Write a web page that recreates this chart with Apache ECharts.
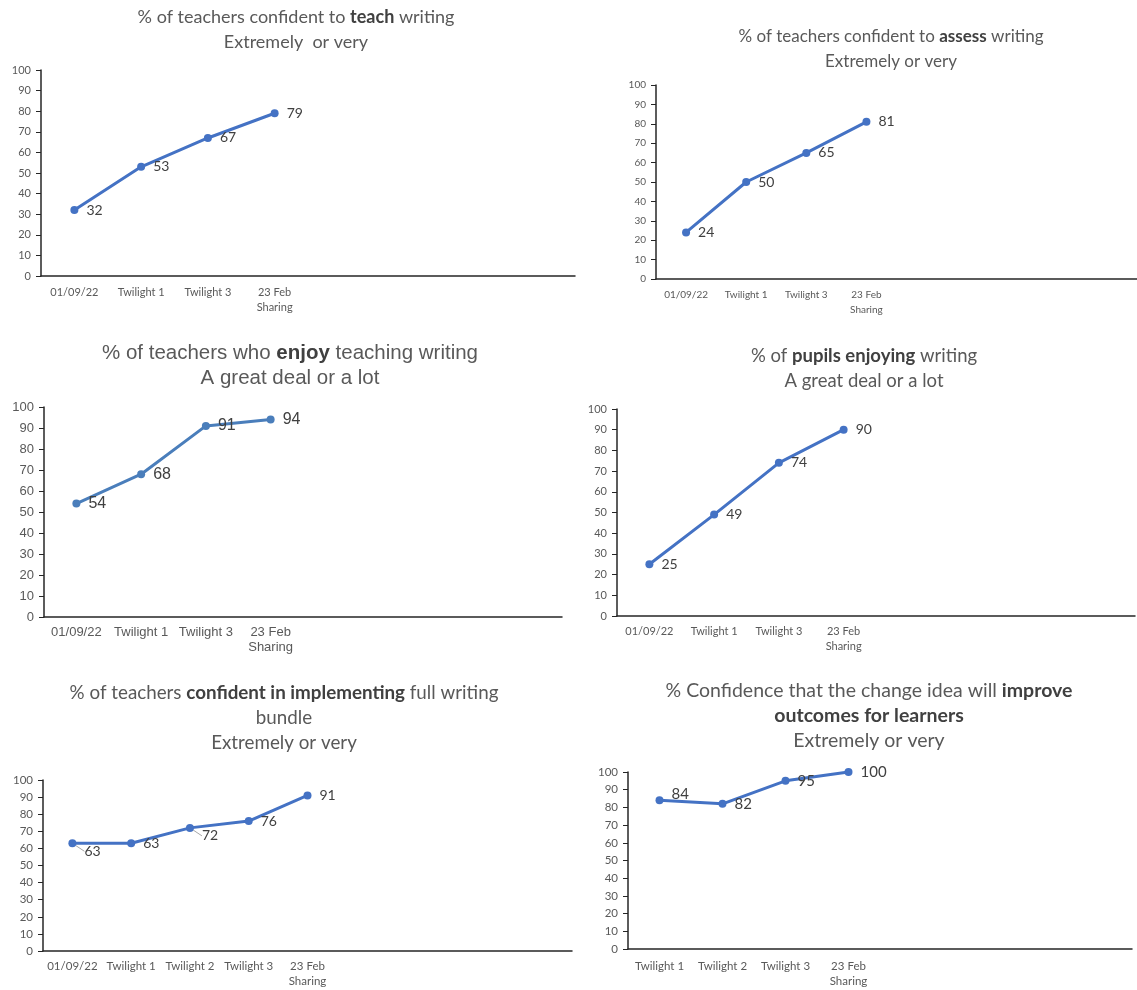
<!DOCTYPE html>
<html>
<head>
<meta charset="utf-8">
<title>Writing survey</title>
<script src="https://cdn.jsdelivr.net/npm/echarts@6/dist/echarts.min.js"></script>
<style>
  html, body { margin: 0; padding: 0; background: #ffffff; }
  #main { width: 1137px; height: 990px; }
</style>
</head>
<body>
<div id="main"></div>
<script>
// ---- data ----
const teachCats = ['01/09/22', 'Twilight 1', 'Twilight 3', '23 Feb\nSharing'];
const teachVals = [32, 53, 67, 79];

const assessCats = ['01/09/22', 'Twilight 1', 'Twilight 3', '23 Feb\nSharing'];
const assessVals = [24, 50, 65, 81];

const enjoyCats = ['01/09/22', 'Twilight 1', 'Twilight 3', '23 Feb\nSharing'];
const enjoyVals = [54, 68, 91, 94];

const pupilsCats = ['01/09/22', 'Twilight 1', 'Twilight 3', '23 Feb\nSharing'];
const pupilsVals = [25, 49, 74, 90];

const bundleCats = ['01/09/22', 'Twilight 1', 'Twilight 2', 'Twilight 3', '23 Feb\nSharing'];
const bundleVals = [63, 63, 72, 76, 91];

const outcomesCats = ['Twilight 1', 'Twilight 2', 'Twilight 3', '23 Feb\nSharing'];
const outcomesVals = [84, 82, 95, 100];

const yMin = 0, yMax = 100, yStep = 10;

const teachTitle = '% of teachers confident to {b|teach} writing\nExtremely  or very';
const assessTitle = '% of teachers confident to {b|assess} writing\nExtremely or very';
const enjoyTitle = '% of teachers who {b|enjoy} teaching writing\nA great deal or a lot';
const pupilsTitle = '% of {b|pupils enjoying} writing\nA great deal or a lot';
const bundleTitle = '% of teachers {b|confident in implementing} full writing\nbundle\nExtremely or very';
const outcomesTitle = '% Confidence that the change idea will {b|improve}\n{b|outcomes for learners}\nExtremely or very';

// ---- styling ----
const CAL = 'Lato, "Open Sans", sans-serif';
const ARIAL = '"Liberation Sans", Arial, sans-serif';
const BLUE = '#4472C4';

const panels = [
  { cats: teachCats, vals: teachVals, title: teachTitle, font: CAL, color: BLUE,
    grid: { left: 41, top: 70, width: 534, height: 206 }, slots: 8,
    tx: 296, ty: 5, tSize: 18, aSize: 11, lSize: 14, xMargin: 9 },
  { cats: assessCats, vals: assessVals, title: assessTitle, font: CAL, color: BLUE,
    grid: { left: 656, top: 85, width: 494, height: 194 }, slots: 8,
    tx: 891, ty: 24, tSize: 17, aSize: 10, lSize: 14, xMargin: 8 },
  { cats: enjoyCats, vals: enjoyVals, title: enjoyTitle, font: ARIAL, color: '#4A7EBB',
    grid: { left: 44, top: 407, width: 518, height: 210 }, slots: 8,
    tx: 290, ty: 341, tSize: 20.5, aSize: 13, lSize: 16, xMargin: 8 },
  { cats: pupilsCats, vals: pupilsVals, title: pupilsTitle, font: CAL, color: BLUE,
    grid: { left: 617, top: 409, width: 518, height: 207 }, slots: 8,
    tx: 864, ty: 344, tSize: 18.5, aSize: 11, lSize: 14, xMargin: 8 },
  { cats: bundleCats, vals: bundleVals, title: bundleTitle, font: CAL, color: BLUE,
    grid: { left: 43, top: 780, width: 529, height: 171 }, slots: 9,
    tx: 284, ty: 680, tSize: 18.8, aSize: 11.5, lSize: 14, xMargin: 8,
    moved: { 0: { dy: 8 }, 2: { dy: 8 } }, leader: [0, 2] },
  { cats: outcomesCats, vals: outcomesVals, title: outcomesTitle, font: CAL, color: BLUE,
    grid: { left: 628, top: 772, width: 504, height: 177 }, slots: 8,
    tx: 869, ty: 678, tSize: 19.5, aSize: 11.5, lSize: 15, xMargin: 10,
    moved: { 0: { dy: -6 } } }
];

const option = { animation: false, title: [], grid: [], xAxis: [], yAxis: [], series: [] };

panels.forEach(function (p, i) {
  // pad the category axis with empty slots so the plot runs on to the right
  const axisCats = p.cats.slice();
  while (axisCats.length < p.slots) axisCats.push('');

  option.title.push({
    text: p.title,
    left: p.tx,
    top: p.ty,
    textAlign: 'center',
    padding: 0,
    textStyle: {
      fontFamily: p.font, fontSize: p.tSize, fontWeight: 'normal', color: '#595959',
      lineHeight: 25,
      rich: { b: { fontFamily: p.font, fontSize: p.tSize, fontWeight: 'bold', color: '#404040', lineHeight: 25 } }
    }
  });

  option.grid.push(Object.assign({ containLabel: false }, p.grid));

  option.xAxis.push({
    type: 'category', gridIndex: i, data: axisCats, boundaryGap: true,
    axisLine: { show: true, lineStyle: { color: '#262626', width: 1.5 } },
    axisTick: { show: false },
    splitLine: { show: false },
    axisLabel: { interval: 0, margin: p.xMargin, color: '#595959', fontFamily: p.font,
      fontSize: p.aSize, lineHeight: 15 }
  });

  option.yAxis.push({
    type: 'value', gridIndex: i, min: yMin, max: yMax, interval: yStep,
    axisLine: { show: true, lineStyle: { color: '#262626', width: 1.5 } },
    axisTick: { show: true, length: 5, lineStyle: { color: '#262626', width: 1 } },
    splitLine: { show: false },
    axisLabel: { margin: 10, color: '#595959', fontFamily: p.font, fontSize: p.aSize }
  });

  const leader = p.leader || [];
  const seriesData = p.vals.map(function (v, k) {
    if (leader.indexOf(k) >= 0) {
      return { value: v, labelLine: { show: true, lineStyle: { color: '#a6a6a6', width: 1 } } };
    }
    return v;
  });

  const moved = p.moved || {};
  option.series.push({
    type: 'line', xAxisIndex: i, yAxisIndex: i, data: seriesData,
    symbol: 'circle', symbolSize: 8, showSymbol: true,
    lineStyle: { color: p.color, width: 3 },
    itemStyle: { color: p.color },
    label: { show: true, position: 'right', distance: 8, color: '#404040',
      fontFamily: p.font, fontSize: p.lSize },
    labelLayout: function (params) {
      return moved[params.dataIndex] || {};
    }
  });
});

const chart = echarts.init(document.getElementById('main'), null, { renderer: 'canvas' });
chart.setOption(option);
</script>
</body>
</html>
